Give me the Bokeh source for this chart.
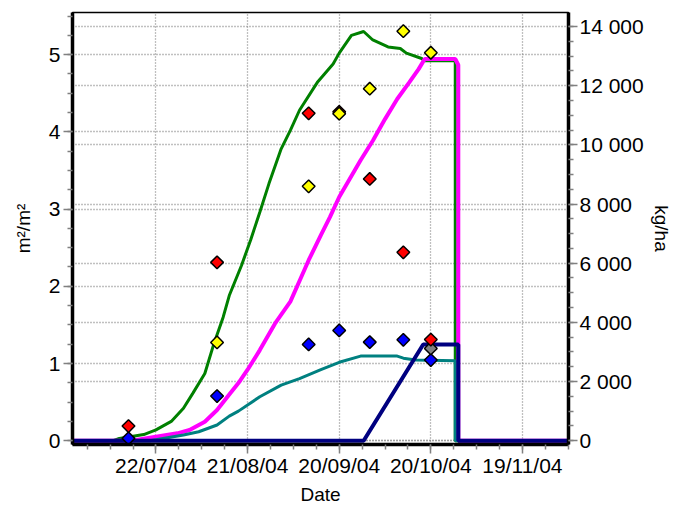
import numpy as np
import pandas as pd
from bokeh.plotting import figure
from bokeh.models import (Range1d, LinearAxis, FixedTicker, DatetimeTickFormatter,
                          Grid, CustomJSTickFormatter)
from bokeh.embed import file_html
from bokeh.resources import INLINE

# ---------------- data ----------------
# simulated LAI (m²/m², left axis)
lai_dates = ["2004-06-24", "2004-07-08", "2004-07-10", "2004-07-18", "2004-07-22", "2004-07-27",
             "2004-07-31", "2004-08-03", "2004-08-07", "2004-08-10", "2004-08-13", "2004-08-15",
             "2004-08-19", "2004-08-22", "2004-08-25", "2004-08-28", "2004-09-01", "2004-09-04",
             "2004-09-07", "2004-09-13", "2004-09-18", "2004-09-20", "2004-09-24", "2004-09-28",
             "2004-10-01", "2004-10-06", "2004-10-10", "2004-10-12", "2004-10-17", "2004-10-18",
             "2004-10-28", "2004-10-28", "2004-12-05"]
lai_vals = [0, 0, 0.03, 0.08, 0.14, 0.25,
            0.42, 0.61, 0.87, 1.26, 1.60, 1.88,
            2.27, 2.60, 2.96, 3.33, 3.78, 4.02,
            4.28, 4.65, 4.88, 5.02, 5.25, 5.30,
            5.19, 5.10, 5.08, 5.02, 4.95, 4.92,
            4.92, 0, 0]

# simulated total biomass (kg/ha, right axis)
bio_dates = ["2004-06-24", "2004-07-14", "2004-07-20", "2004-07-29", "2004-08-02", "2004-08-07",
             "2004-08-11", "2004-08-15", "2004-08-18", "2004-08-21", "2004-08-25", "2004-08-30",
             "2004-09-04", "2004-09-07", "2004-09-10", "2004-09-14", "2004-09-17", "2004-09-20",
             "2004-09-23", "2004-09-27", "2004-10-01", "2004-10-05", "2004-10-09", "2004-10-13",
             "2004-10-16", "2004-10-18", "2004-10-28", "2004-10-29", "2004-10-29", "2004-12-05"]
bio_vals = [0, 0, 100, 250, 361, 641,
            1036, 1560, 1950, 2400, 3062, 3963,
            4700, 5400, 6101, 6950, 7563, 8238,
            8770, 9480, 10140, 10870, 11550, 12120,
            12560, 12900, 12900, 12700, 0, 0]

# simulated leaf biomass (kg/ha, right axis)
leaf_dates = ["2004-06-24", "2004-07-20", "2004-07-31", "2004-08-05", "2004-08-11", "2004-08-15",
              "2004-08-18", "2004-08-25", "2004-09-01", "2004-09-07", "2004-09-14", "2004-09-20",
              "2004-09-27", "2004-10-09", "2004-10-11", "2004-10-15", "2004-10-28", "2004-10-28",
              "2004-12-05"]
leaf_vals = [0, 0, 192, 304, 530, 830,
             1000, 1485, 1880, 2100, 2400, 2650,
             2860, 2860, 2790, 2730, 2700, 0,
             0]

# simulated storage organ / grain (kg/ha, right axis)
grain_dates = ["2004-06-24 00:00", "2004-09-28 00:00", "2004-10-17 12:00", "2004-10-29 00:00",
               "2004-10-29 00:00", "2004-12-05 00:00"]
grain_vals = [0, 0, 3254, 3254, 0, 0]

# observations
obs_lai_dates = ["2004-07-13", "2004-08-11", "2004-09-10", "2004-09-20", "2004-09-30", "2004-10-11", "2004-10-20"]
obs_lai_vals = [0.19, 2.31, 4.24, 4.26, 3.39, 2.44, 1.31]

obs_bio_dates = ["2004-08-11", "2004-09-10", "2004-09-20", "2004-09-30", "2004-10-11", "2004-10-20"]
obs_bio_vals = [3322, 8599, 11053, 11897, 13842, 13113]

obs_leaf_dates = ["2004-07-13", "2004-08-11", "2004-09-10", "2004-09-20", "2004-09-30", "2004-10-11", "2004-10-20"]
obs_leaf_vals = [80, 1509, 3254, 3727, 3332, 3410, 2725]

obs_grain_dates = ["2004-10-20"]
obs_grain_vals = [3119]

# axes ticks
x_tick_dates = ["2004-07-22", "2004-08-21", "2004-09-20", "2004-10-20", "2004-11-19"]
left_ticks = [0, 1, 2, 3, 4, 5]
right_ticks = [0, 2000, 4000, 6000, 8000, 10000, 12000, 14000]

# ---------------- helpers ----------------
def dt(lst):
    return pd.to_datetime(lst, format="mixed")

def ms(ts):
    return pd.Timestamp(ts).value / 1e6

x_start = ms("2004-06-24 16:00")
x_end = ms("2004-12-04 02:00")

p = figure(width=686, height=509, x_axis_type="datetime",
           x_range=Range1d(x_start, x_end), y_range=Range1d(-0.049, 5.546),
           output_backend="svg", toolbar_location=None,
           min_border_left=72, min_border_right=118, min_border_top=12, min_border_bottom=65)
p.extra_y_ranges = {"right": Range1d(-128, 14473)}
p.background_fill_color = "white"
p.border_fill_color = "white"
p.outline_line_color = "black"
p.outline_line_width = 1.5

FONT = "Liberation Sans"
GRID_COLOR = "#808080"

# x axis ticks
x_major = [ms(d) for d in x_tick_dates]
x_minor = [ms(pd.Timestamp("2004-07-22") + pd.Timedelta(hours=180 * k)) for k in range(-3, 21)]
p.xaxis.ticker = FixedTicker(ticks=x_major, minor_ticks=x_minor)
fmt = "%d/%m/%y"
p.xaxis.formatter = DatetimeTickFormatter(microseconds=fmt, milliseconds=fmt, seconds=fmt, minsec=fmt,
                                          minutes=fmt, hourmin=fmt, hours=fmt, days=fmt,
                                          months=fmt, years=fmt)
p.xaxis.axis_label = "Date"

# left axis
p.yaxis.ticker = FixedTicker(ticks=left_ticks, minor_ticks=[i * 0.25 for i in range(0, 23)])
p.yaxis.axis_label = "m²/m²"

# right axis
right_ticker = FixedTicker(ticks=right_ticks, minor_ticks=list(range(0, 14501, 500)))
right_axis = LinearAxis(y_range_name="right", ticker=right_ticker, axis_label="kg/ha")
right_axis.formatter = CustomJSTickFormatter(code="""
const s = Math.round(tick).toString();
return s.length > 3 ? s.slice(0, -3) + ' ' + s.slice(-3) : s;
""")
p.add_layout(right_axis, "right")

for ax in [p.xaxis[0], p.yaxis[0], right_axis]:
    ax.axis_line_color = "black"
    ax.axis_line_width = 3.5
    ax.major_tick_line_color = "#808080"
    ax.minor_tick_line_color = "#808080"
    ax.major_tick_line_width = 1.5
    ax.minor_tick_line_width = 1.5
    ax.major_tick_in = 0
    ax.major_tick_out = 9
    ax.minor_tick_in = 0
    ax.minor_tick_out = 5
    ax.major_label_text_font = FONT
    ax.major_label_text_font_size = "21px"
    ax.major_label_text_color = "black"
    ax.axis_label_text_font = FONT
    ax.axis_label_text_font_size = "19px"
    ax.axis_label_text_font_style = "normal"
    ax.axis_label_text_color = "black"

p.xaxis.major_label_standoff = 0
p.xaxis.axis_label_standoff = 4
p.yaxis.major_label_standoff = 3
p.yaxis.axis_label_standoff = 12
right_axis.major_label_standoff = 2
right_axis.axis_label_standoff = 4

# grids
for g in [p.xgrid[0], p.ygrid[0]]:
    g.grid_line_color = GRID_COLOR
    g.grid_line_dash = "1 2"
    g.grid_line_width = 1.3
right_grid = Grid(dimension=1, ticker=right_ticker, y_range_name="right",
                  grid_line_color=GRID_COLOR, grid_line_dash="1 2", grid_line_width=1.3)
p.add_layout(right_grid)

# simulated lines
p.line(dt(lai_dates), lai_vals, line_color="#008000", line_width=3)
p.line(dt(bio_dates), bio_vals, line_color="#FF00FF", line_width=4, y_range_name="right")
p.line(dt(leaf_dates), leaf_vals, line_color="#008080", line_width=3, y_range_name="right")
p.line(dt(grain_dates), grain_vals, line_color="#000080", line_width=4, y_range_name="right")

# observations (diamonds)
mk = dict(marker="square", angle=np.pi / 4, size=9, line_color="black", line_width=1.5)
p.scatter(dt(obs_leaf_dates), obs_leaf_vals, fill_color="#0000FF", y_range_name="right", **mk)
p.scatter(dt(obs_grain_dates), obs_grain_vals, fill_color="#808080", y_range_name="right", **mk)
p.scatter(dt(obs_lai_dates), obs_lai_vals, fill_color="#FF0000", **mk)
p.scatter(dt(obs_bio_dates), obs_bio_vals, fill_color="#FFFF00", y_range_name="right", **mk)

open("out.html", "w").write(file_html(p, INLINE))
